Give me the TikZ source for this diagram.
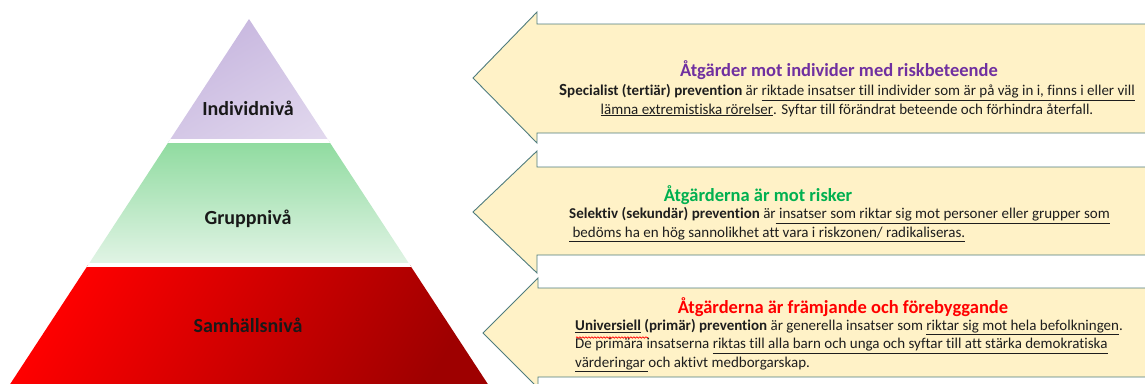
\documentclass[tikz,border=0pt]{standalone}
\usepackage{fontspec}
\setmainfont{Carlito}[Ligatures=NoCommon]
\usetikzlibrary{decorations.pathmorphing}
\definecolor{pilfyll}{HTML}{FFF2C7}
\definecolor{pilkant}{HTML}{4F7C7E}
\definecolor{lilamork}{HTML}{BBA7D8}
\definecolor{lilaljus}{HTML}{E9E2F2}
\definecolor{gronmork}{HTML}{8FDB9F}
\definecolor{gronljus}{HTML}{E2F4E6}
\definecolor{rodljus}{HTML}{FF0000}
\definecolor{rodmork}{HTML}{9E0000}
\definecolor{rubriklila}{HTML}{7030A0}
\definecolor{rubrikgron}{HTML}{00B050}
\definecolor{rubrikrod}{HTML}{FF0000}
\definecolor{textgra}{HTML}{1E1E1E}
\tikzset{
  pil/.style={fill=pilfyll, draw=pilkant, line width=0.9pt, line join=miter},
  niva/.style={font=\fontsize{20}{24}\selectfont\bfseries, text=black!90, inner sep=0pt},
  rubrik/.style={font=\fontsize{18.5}{22}\selectfont\bfseries, inner sep=0pt},
  brodtext/.style={font=\fontsize{15}{18.2}\selectfont, text=textgra, inner sep=0pt},
}
\begin{document}
\begin{tikzpicture}[x=1pt,y=-1pt]
\useasboundingbox (0,0) rectangle (1145,383);
\clip (0,0) rectangle (1145,383);
% pyramiden
\begin{scope}
  \clip (249,19) -- (495,395) -- (3,395) -- cycle;
  \shade[top color=lilamork, bottom color=lilaljus, shading angle=30] (0,15) rectangle (500,141);
  \shade[top color=gronmork, bottom color=gronljus] (0,141) rectangle (500,265);
  \shade[left color=rodljus, right color=rodmork, shading angle=60] (0,265) rectangle (500,395);
  \draw[white, line width=4pt] (0,141) -- (500,141) (0,265) -- (500,265);
\end{scope}
\node[niva, anchor=base] (individ) at (248,115) {Individnivå};
\node[niva, anchor=base] (grupp) at (248,224) {Gruppnivå};
\node[niva, anchor=base] (samhalle) at (248,332) {Samhällsnivå};
% pilarna
\draw[pil] (473,78) -- (537,12) -- (537,24) -- (1160,24) -- (1160,133) -- (537,133) -- (537,143) -- cycle;
\draw[pil] (473,212) -- (537,151) -- (537,167) -- (1160,167) -- (1160,255) -- (537,255) -- (537,273) -- cycle;
\draw[pil] (483,333) -- (538,278) -- (538,288) -- (1160,288) -- (1160,377) -- (538,377) -- (538,388) -- cycle;
% texter, individnivå
\node[rubrik, text=rubriklila, anchor=base] (rubrik1) at (839,76) {Åtgärder mot individer med riskbeteende};
\node[brodtext, align=center, anchor=base] (text1) at (847,114)
  {\textbf{{\fontsize{17}{18}\selectfont S}pecialist (tertiär) prevention} är \underline{riktade insatser till individer som är på väg in i, finns i eller vill}\\
   \underline{lämna extremistiska rörelser}. Syftar till förändrat beteende och förhindra återfall.};
% texter, gruppnivå
\node[rubrik, text=rubrikgron, anchor=base] (rubrik2) at (758,201) {Åtgärderna är mot risker};
\node[brodtext, align=left, anchor=base west] (text2) at (569,237)
  {\textbf{Selektiv (sekundär) prevention} är\underline{ insatser som riktar sig mot personer eller grupper som}\\
   \underline{ bedöms ha en hög sannolikhet att vara i riskzonen/ radikaliseras.}};
% texter, samhällsnivå
\node[rubrik, text=rubrikrod, anchor=base] (rubrik3) at (843,313) {Åtgärderna är främjande och förebyggande};
\node[brodtext, align=left, anchor=base west] (text3) at (575,367)
  {\textbf{\underline{Universiell} (primär) prevention} är generella insatser som \underline{riktar sig mot hela befolkningen}.\\
   De primära insatserna \underline{riktas till alla barn och unga och syftar till att stärka demokratiska}\\
   \underline{värderingar }och aktivt medborgarskap.};
\draw[red, line width=0.7pt, decorate, decoration={snake, amplitude=0.7pt, segment length=3pt}] (576,337.5) -- (648,337.5);
\end{tikzpicture}
\end{document}
